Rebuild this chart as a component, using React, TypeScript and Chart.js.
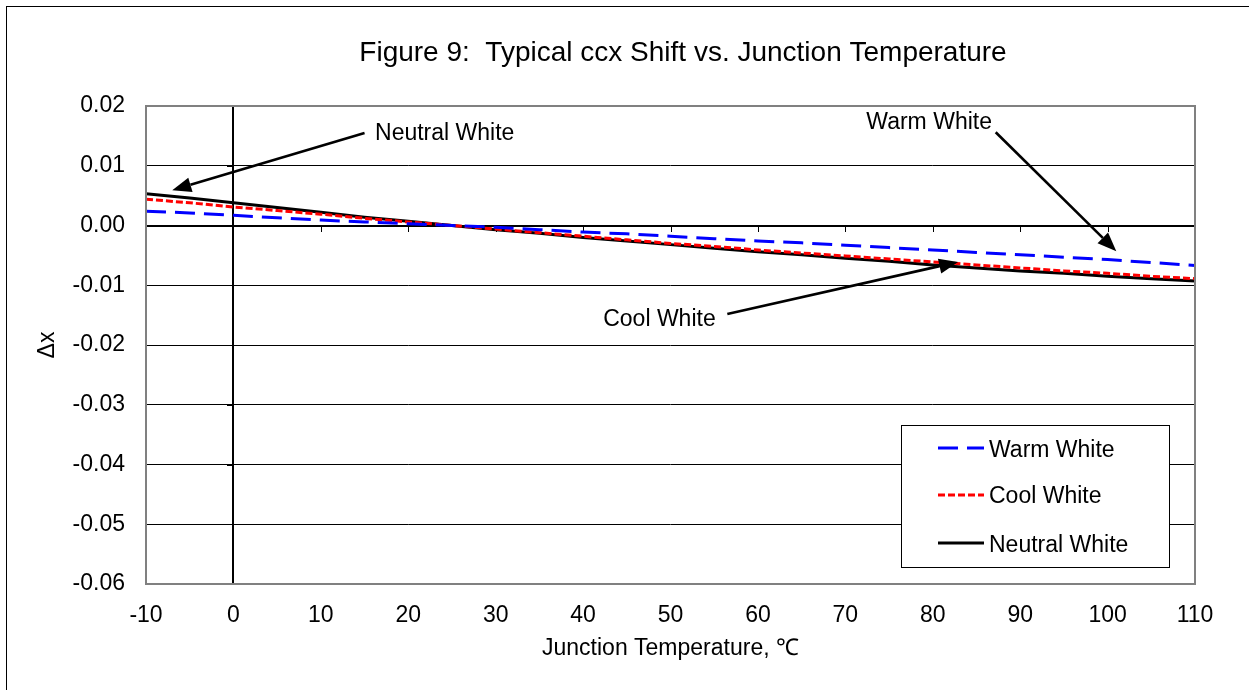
import React, { useEffect, useRef } from "react";
import { Chart, registerables } from "chart.js";

Chart.register(...registerables);

// ---------- data ----------
const temperatures = [-10, -5, 0, 5, 10, 15, 20, 25, 30, 35, 40, 45, 50, 55, 60, 65, 70, 75, 80, 85, 90, 95, 100, 105, 110];
const warmWhite = [0.0024, 0.0021, 0.0017, 0.0013, 0.0009, 0.0006, 0.0003, 0.0, -0.0003, -0.0007, -0.0011, -0.0014, -0.0018, -0.0022, -0.0026, -0.0029, -0.0033, -0.0037, -0.0041, -0.0045, -0.0049, -0.0053, -0.0057, -0.0062, -0.0067];
const coolWhite = [0.0044, 0.0038, 0.0031, 0.0025, 0.0019, 0.0012, 0.0006, 0.0, -0.0006, -0.0012, -0.0018, -0.0024, -0.003, -0.0035, -0.0041, -0.0046, -0.0051, -0.0056, -0.0061, -0.0066, -0.0071, -0.0076, -0.008, -0.0085, -0.0089];
const neutralWhite = [0.0053, 0.0046, 0.0038, 0.003, 0.0022, 0.0014, 0.0007, 0.0, -0.0007, -0.0013, -0.002, -0.0026, -0.0032, -0.0038, -0.0044, -0.0049, -0.0055, -0.006, -0.0066, -0.0071, -0.0076, -0.008, -0.0085, -0.0089, -0.0093];
const seriesLabels = ["Warm White", "Cool White", "Neutral White"];

const xTickValues = [-10, 0, 10, 20, 30, 40, 50, 60, 70, 80, 90, 100, 110];
const xTickLabels = ["-10", "0", "10", "20", "30", "40", "50", "60", "70", "80", "90", "100", "110"];
const yTickValues = [0.02, 0.01, 0, -0.01, -0.02, -0.03, -0.04, -0.05, -0.06];
const yTickLabels = ["0.02", "0.01", "0.00", "-0.01", "-0.02", "-0.03", "-0.04", "-0.05", "-0.06"];

const titleText = "Figure 9:  Typical ccx Shift vs. Junction Temperature";
const xAxisTitle = "Junction Temperature, ℃";
const yAxisTitle = "Δx";

// callouts (data coordinates)
const calloutLabels = ["Neutral White", "Warm White", "Cool White"];
const calloutTextX = [16.2, 72.4, 42.3];
const calloutTextY = [0.0143, 0.0161, -0.0169];
const calloutTailX = [15.0, 87.2, 56.5];
const calloutTailY = [0.0155, 0.0156, -0.0148];
const calloutTipX = [-7.0, 101.0, 82.9];
const calloutTipY = [0.0059, -0.0043, -0.0061];

const FONT = "Liberation Sans, Arial, sans-serif";

const decorPlugin = {
  id: "decor",
  beforeDraw(chart: any) {
    const ctx = chart.ctx;
    ctx.save();
    ctx.fillStyle = "#ffffff";
    ctx.fillRect(0, 0, chart.width, chart.height);
    ctx.strokeStyle = "#000000";
    ctx.lineWidth = 1;
    ctx.strokeRect(6.5, 6.5, chart.width + 50, chart.height + 50);
    ctx.restore();
  },
  beforeDatasetsDraw(chart: any) {
    const ctx = chart.ctx;
    const xs = chart.scales.x;
    const ys = chart.scales.y;
    const ca = chart.chartArea;
    const x0 = Math.round(xs.getPixelForValue(0));
    const y0 = Math.round(ys.getPixelForValue(0));
    ctx.save();
    ctx.strokeStyle = "#000000";
    ctx.lineWidth = 1;
    ctx.beginPath();
    xTickValues.forEach((v) => {
      const px = Math.round(xs.getPixelForValue(v)) + 0.5;
      ctx.moveTo(px, y0);
      ctx.lineTo(px, y0 + 6);
    });
    yTickValues.forEach((v) => {
      const py = Math.round(ys.getPixelForValue(v)) + 0.5;
      ctx.moveTo(x0, py);
      ctx.lineTo(x0 - 6, py);
    });
    ctx.stroke();
    ctx.lineWidth = 2;
    ctx.beginPath();
    ctx.moveTo(x0, ca.top);
    ctx.lineTo(x0, ca.bottom);
    ctx.moveTo(ca.left, y0);
    ctx.lineTo(ca.right, y0);
    ctx.stroke();
    ctx.restore();
  },
  afterDatasetsDraw(chart: any) {
    const ctx = chart.ctx;
    const xs = chart.scales.x;
    const ys = chart.scales.y;
    const ca = chart.chartArea;
    ctx.save();
    ctx.strokeStyle = "#808080";
    ctx.lineWidth = 2;
    ctx.strokeRect(ca.left, ca.top, ca.right - ca.left, ca.bottom - ca.top);

    // title
    ctx.fillStyle = "#000000";
    ctx.font = `28px ${FONT}`;
    ctx.textAlign = "center";
    ctx.textBaseline = "alphabetic";
    ctx.fillText(titleText, 683, 61);

    // legend box
    const bx = ca.left + 755;
    const by = ca.top + 319;
    const bw = 268;
    const bh = 142;
    ctx.fillStyle = "#ffffff";
    ctx.fillRect(bx, by, bw, bh);
    ctx.strokeStyle = "#000000";
    ctx.lineWidth = 1;
    ctx.strokeRect(bx + 0.5, by + 0.5, bw, bh);
    const rowLine = [23, 70, 118];
    const rowText = [32, 78, 126.5];
    chart.data.datasets.forEach((ds: any, i: number) => {
      ctx.save();
      ctx.strokeStyle = ds.borderColor;
      ctx.lineWidth = ds.borderWidth;
      ctx.setLineDash(ds.borderDash || []);
      ctx.beginPath();
      ctx.moveTo(bx + 37, by + rowLine[i]);
      ctx.lineTo(bx + 83, by + rowLine[i]);
      ctx.stroke();
      ctx.restore();
      ctx.fillStyle = "#000000";
      ctx.font = `23px ${FONT}`;
      ctx.textAlign = "left";
      ctx.textBaseline = "alphabetic";
      ctx.fillText(ds.label, bx + 88, by + rowText[i]);
    });

    // callouts
    calloutLabels.forEach((label, i) => {
      const tx = xs.getPixelForValue(calloutTextX[i]);
      const ty = ys.getPixelForValue(calloutTextY[i]);
      ctx.fillStyle = "#000000";
      ctx.font = `23px ${FONT}`;
      ctx.textAlign = "left";
      ctx.textBaseline = "alphabetic";
      ctx.fillText(label, tx, ty);

      const ax = xs.getPixelForValue(calloutTailX[i]);
      const ay = ys.getPixelForValue(calloutTailY[i]);
      const px = xs.getPixelForValue(calloutTipX[i]);
      const py = ys.getPixelForValue(calloutTipY[i]);
      const ang = Math.atan2(py - ay, px - ax);
      const headLen = 19;
      const headHalf = 7.5;
      const bxp = px - headLen * Math.cos(ang);
      const byp = py - headLen * Math.sin(ang);
      ctx.strokeStyle = "#000000";
      ctx.lineWidth = 2.6;
      ctx.beginPath();
      ctx.moveTo(ax, ay);
      ctx.lineTo(bxp, byp);
      ctx.stroke();
      ctx.beginPath();
      ctx.moveTo(px, py);
      ctx.lineTo(bxp + headHalf * Math.sin(ang), byp - headHalf * Math.cos(ang));
      ctx.lineTo(bxp - headHalf * Math.sin(ang), byp + headHalf * Math.cos(ang));
      ctx.closePath();
      ctx.fillStyle = "#000000";
      ctx.fill();
    });
    ctx.restore();
  },
};

export default function App() {
  const canvasRef = useRef<HTMLCanvasElement | null>(null);

  useEffect(() => {
    if (!canvasRef.current) return;
    const toPoints = (vals: number[]) => temperatures.map((t, i) => ({ x: t, y: vals[i] }));
    const chart = new Chart(canvasRef.current, {
      type: "line",
      data: {
        datasets: [
          {
            label: seriesLabels[0],
            data: toPoints(warmWhite),
            borderColor: "#0000ff",
            borderWidth: 3,
            borderDash: [20, 9],
            pointRadius: 0,
            fill: false,
          },
          {
            label: seriesLabels[1],
            data: toPoints(coolWhite),
            borderColor: "#ff0000",
            borderWidth: 3,
            borderDash: [7, 3],
            pointRadius: 0,
            fill: false,
          },
          {
            label: seriesLabels[2],
            data: toPoints(neutralWhite),
            borderColor: "#000000",
            borderWidth: 3,
            pointRadius: 0,
            fill: false,
          },
        ],
      },
      options: {
        responsive: false,
        animation: false,
        devicePixelRatio: 1,
        layout: { padding: { top: 106, left: 0, right: 54, bottom: 0 } },
        plugins: {
          legend: { display: false },
          tooltip: { enabled: false },
          title: { display: false },
        },
        scales: {
          x: {
            type: "linear",
            position: "bottom",
            min: -10,
            max: 110,
            afterBuildTicks: (scale: any) => {
              scale.ticks = xTickValues.map((v) => ({ value: v }));
            },
            afterFit: (scale: any) => {
              scale.height = 106;
            },
            grid: { display: false, drawTicks: false },
            border: { display: false },
            ticks: {
              padding: 18,
              color: "#000000",
              font: { family: FONT, size: 23 },
              maxRotation: 0,
              autoSkip: false,
              callback: (_v: any, i: number) => xTickLabels[i],
            },
            title: {
              display: true,
              text: xAxisTitle,
              color: "#000000",
              font: { family: FONT, size: 23 },
              padding: { top: 0, bottom: 28 },
            },
          },
          y: {
            type: "linear",
            min: -0.06,
            max: 0.02,
            afterBuildTicks: (scale: any) => {
              scale.ticks = yTickValues.map((v) => ({ value: v }));
            },
            afterFit: (scale: any) => {
              scale.width = 146;
            },
            grid: { display: true, color: "#000000", lineWidth: 1, drawTicks: false },
            border: { display: false },
            ticks: {
              padding: 21,
              color: "#000000",
              font: { family: FONT, size: 23 },
              autoSkip: false,
              callback: (_v: any, i: number) => yTickLabels[i],
            },
            title: {
              display: true,
              text: yAxisTitle,
              color: "#000000",
              font: { family: FONT, size: 23 },
              padding: { top: 34, bottom: 0 },
            },
          },
        },
      },
      plugins: [decorPlugin],
    });
    return () => chart.destroy();
  }, []);

  return (
    <div style={{ position: "fixed", left: 0, top: 0, width: 1249, height: 690, overflow: "hidden" }}>
      <canvas ref={canvasRef} width={1249} height={690} />
    </div>
  );
}
